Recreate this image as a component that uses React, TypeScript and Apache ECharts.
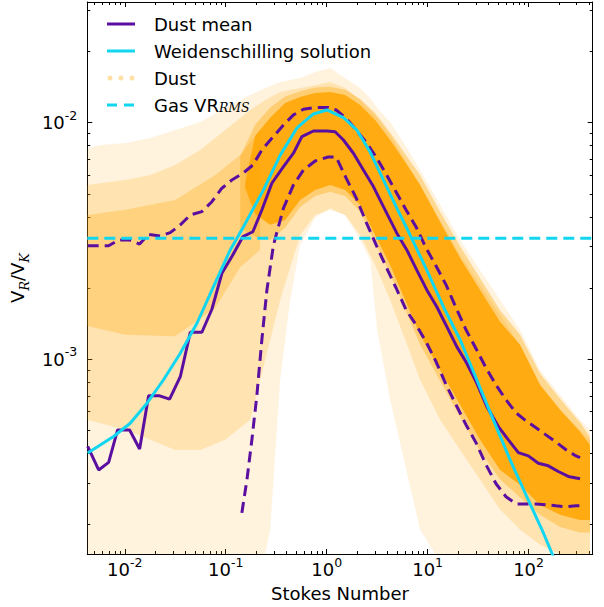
import React, { useEffect, useRef } from "react";
import * as echarts from "echarts";

// ---- axis ranges & ticks ----
const stMin = 0.00425;
const stMax = 432;
const vMin = 1.5e-4;
const vMax = 0.0324;
const majorStTicks = [0.01, 0.1, 1, 10, 100];
const minorStTicks = [0.005, 0.006, 0.007, 0.008, 0.009, 0.02, 0.03, 0.04, 0.05, 0.06, 0.07, 0.08, 0.09, 0.2, 0.3, 0.4, 0.5, 0.6, 0.7, 0.8, 0.9, 2, 3, 4, 5, 6, 7, 8, 9, 20, 30, 40, 50, 60, 70, 80, 90, 200, 300, 400];
const majorVTicks = [0.001, 0.01];
const minorVTicks = [0.0002, 0.0003, 0.0004, 0.0005, 0.0006, 0.0007, 0.0008, 0.0009, 0.002, 0.003, 0.004, 0.005, 0.006, 0.007, 0.008, 0.009, 0.02, 0.03];

// ---- Dust mean (solid purple) ----
const dustMeanSt = [0.00429, 0.00551, 0.00692, 0.00849, 0.01117, 0.01403, 0.01722, 0.02213, 0.0278, 0.03548, 0.04457, 0.05808, 0.07295, 0.09162, 0.1151, 0.1479, 0.1858, 0.228, 0.2864, 0.3733, 0.4688, 0.5675, 0.7396, 1.005, 1.213, 1.466, 1.841, 2.312, 2.904, 3.648, 4.955, 6.223, 7.816, 9.817, 12.33, 15.49, 19.45, 24.43, 30.69, 38.55, 50.23, 63.1, 79.25, 99.54, 125.0, 157.0, 197.2, 247.7, 323.6];
const dustMeanV = [4.28e-4, 3.4e-4, 3.66e-4, 5.02e-4, 5.02e-4, 4.17e-4, 7.0e-4, 7.0e-4, 6.78e-4, 8.43e-4, 1.3e-3, 1.3e-3, 1.626e-3, 2.307e-3, 2.716e-3, 3.296e-3, 3.459e-3, 4.276e-3, 5.546e-3, 6.516e-3, 7.43e-3, 8.73e-3, 9.226e-3, 9.226e-3, 9.162e-3, 8.453e-3, 7.43e-3, 6.31e-3, 5.37e-3, 4.416e-3, 3.412e-3, 2.897e-3, 2.382e-3, 1.963e-3, 1.667e-3, 1.374e-3, 1.13e-3, 9.616e-4, 7.925e-4, 6.31e-4, 5.188e-4, 4.56e-4, 4.027e-4, 3.899e-4, 3.631e-4, 3.54e-4, 3.35e-4, 3.192e-4, 3.119e-4];

// ---- Dust mean + sigma (dashed purple) ----
const upperSt = [0.00429, 0.00551, 0.00692, 0.00869, 0.01117, 0.01403, 0.01722, 0.02244, 0.02818, 0.03548, 0.04457, 0.05808, 0.07295, 0.09162, 0.1151, 0.1479, 0.1858, 0.228, 0.2864, 0.3733, 0.4688, 0.5888, 0.7691, 1.042, 1.242, 1.56, 1.959, 2.46, 3.09, 3.882, 4.875, 6.124, 7.691, 9.661, 12.13, 15.24, 19.14, 24.04, 30.2, 37.93, 47.64, 59.84, 75.16, 94.41, 118.6, 148.6, 186.6, 235.0, 295.1, 323.6];
const upperV = [3.02e-3, 3.02e-3, 3.02e-3, 3.192e-3, 3.192e-3, 3.069e-3, 3.373e-3, 3.319e-3, 3.428e-3, 3.698e-3, 4.074e-3, 4.207e-3, 4.634e-3, 5.284e-3, 5.728e-3, 6.109e-3, 6.622e-3, 7.674e-3, 8.59e-3, 9.772e-3, 1.079e-2, 1.14e-2, 1.161e-2, 1.161e-2, 1.132e-2, 1.045e-2, 9.311e-3, 8.279e-3, 7.161e-3, 6.067e-3, 5.093e-3, 4.276e-3, 3.622e-3, 2.951e-3, 2.477e-3, 2.061e-3, 1.648e-3, 1.33e-3, 1.107e-3, 9.183e-4, 7.78e-4, 6.73e-4, 5.929e-4, 5.483e-4, 5.129e-4, 4.786e-4, 4.467e-4, 4.14e-4, 3.899e-4, 3.83e-4];

// ---- Dust mean - sigma (dashed purple) ----
const lowerSt = [0.1445, 0.1622, 0.1816, 0.2037, 0.228, 0.2559, 0.2972, 0.3733, 0.4688, 0.5888, 0.7691, 1.035, 1.242, 1.56, 1.959, 2.46, 3.09, 3.882, 4.875, 6.124, 7.691, 9.661, 12.13, 15.24, 19.14, 24.04, 30.2, 37.93, 47.64, 59.84, 75.16, 94.41, 118.6, 148.6, 186.6, 235.0, 295.1, 323.6];
const lowerV = [2.239e-4, 3.09e-4, 4.56e-4, 7.063e-4, 1.208e-3, 1.963e-3, 3.041e-3, 4.355e-3, 5.458e-3, 6.31e-3, 6.887e-3, 7.161e-3, 7.161e-3, 5.834e-3, 4.808e-3, 3.802e-3, 3.041e-3, 2.455e-3, 2.0e-3, 1.614e-3, 1.396e-3, 1.183e-3, 9.75e-4, 7.798e-4, 6.412e-4, 5.272e-4, 4.426e-4, 3.573e-4, 2.972e-4, 2.618e-4, 2.443e-4, 2.443e-4, 2.443e-4, 2.421e-4, 2.399e-4, 2.377e-4, 2.399e-4, 2.4e-4];

// ---- Weidenschilling solution (cyan) ----
const weidSt = [0.00429, 0.00774, 0.01132, 0.0166, 0.02421, 0.03548, 0.05188, 0.07568, 0.1109, 0.15, 0.2366, 0.3467, 0.507, 0.7396, 1.005, 1.466, 1.991, 2.698, 3.648, 4.955, 6.714, 9.817, 14.32, 20.99, 30.69, 44.77, 65.61, 95.94, 140.3, 187.1];
const weidV = [4.009e-4, 4.71e-4, 5.358e-4, 6.516e-4, 8.185e-4, 1.059e-3, 1.419e-3, 2.028e-3, 2.897e-3, 3.631e-3, 5.2e-3, 7.295e-3, 9.506e-3, 1.089e-2, 1.132e-2, 1.052e-2, 9.311e-3, 7.516e-3, 5.728e-3, 4.355e-3, 3.35e-3, 2.382e-3, 1.667e-3, 1.208e-3, 8.185e-4, 5.534e-4, 3.75e-4, 2.624e-4, 1.841e-4, 1.374e-4];

// ---- Gas VR_RMS (dashed cyan) ----
const gasVR = 3.25e-3;

// ---- Dust particle cloud, envelopes ----
const sparseSt = [0.004255, 0.005719, 0.01011, 0.01787, 0.03162, 0.0559, 0.09886, 0.1749, 0.246, 0.2758, 0.3465, 0.4351, 0.5467, 0.7691, 1.083, 1.524, 2.147, 2.696, 3.162, 4.254, 5.987, 8.427, 11.87, 20.98, 33.11, 52.24, 82.39, 130.0, 205.1, 323.6, 406.2];
const sparseTop = [0.00782, 0.00805, 0.00821, 0.00862, 0.00931, 0.01007, 0.01153, 0.0131, 0.01403, 0.01429, 0.01486, 0.01515, 0.01545, 0.01638, 0.01703, 0.01545, 0.01403, 0.01272, 0.01153, 0.01007, 0.00805, 0.00631, 0.0049, 0.00319, 0.00238, 0.00178, 0.00133, 0.000901, 0.000706, 0.000554, 0.000503];
const sparseBottom = [1.5e-4, 1.5e-4, 1.5e-4, 1.5e-4, 1.5e-4, 1.5e-4, 1.5e-4, 1.5e-4, 1.5e-4, 0.00019, 0.000818, 0.00178, 0.00304, 0.00396, 0.00436, 0.00407, 0.00319, 0.00263, 0.00133, 0.000673, 0.000357, 0.00019, 1.5e-4, 1.5e-4, 1.5e-4, 1.5e-4, 1.5e-4, 1.5e-4, 1.5e-4, 1.5e-4, 1.5e-4];

const midSt = [0.004255, 0.01011, 0.01787, 0.03162, 0.0559, 0.09886, 0.1749, 0.246, 0.3465, 0.5467, 0.7691, 1.083, 1.524, 2.147, 3.02, 4.254, 5.987, 8.427, 13.3, 20.98, 33.11, 52.24, 82.39, 130.0, 205.1, 323.6, 406.2];
const midTop = [0.00545, 0.00573, 0.00601, 0.00662, 0.00767, 0.00931, 0.01132, 0.01247, 0.01349, 0.01403, 0.01442, 0.01486, 0.01403, 0.01247, 0.01078, 0.00887, 0.00696, 0.00545, 0.00388, 0.00276, 0.00206, 0.00154, 0.00115, 0.000779, 0.000611, 0.000503, 0.000456];
const midBottom = [0.000554, 0.000503, 0.000456, 0.000413, 0.000413, 0.000456, 0.000554, 0.000993, 0.00178, 0.00335, 0.00407, 0.00428, 0.00407, 0.00335, 0.0025, 0.00178, 0.00121, 0.000818, 0.000554, 0.000413, 0.000309, 0.000231, 0.00019, 0.000164, 1.5e-4, 1.5e-4, 1.5e-4];

const leftDenseSt = [0.004255, 0.01011, 0.03162, 0.0787, 0.1392, 0.2196];
const leftDenseTop = [0.00407, 0.00428, 0.00471, 0.00601, 0.0073, 0.00931];
const leftDenseBottom = [0.00138, 0.00127, 0.00125, 0.00165, 0.00245, 0.0029];

const innerSt = [0.1392, 0.1959, 0.2758, 0.3882, 0.5467, 0.7691, 1.083, 1.524, 2.147, 3.02, 4.254, 5.987, 8.427, 13.3, 20.98, 33.11, 52.24, 82.39, 130.0, 205.1, 323.6, 406.2];
const innerTop = [0.0072, 0.0098, 0.0116, 0.0129, 0.0136, 0.0141, 0.0142, 0.0138, 0.0126, 0.0110, 0.0091, 0.0074, 0.0060, 0.0042, 0.0030, 0.0022, 0.00161, 0.00127, 0.00087, 0.00068, 0.00054, 0.00047];
const innerBottom = [0.0036, 0.0033, 0.0032, 0.0036, 0.0044, 0.0049, 0.0051, 0.0049, 0.0042, 0.0031, 0.0023, 0.00163, 0.00115, 0.00081, 0.00057, 0.00041, 0.00031, 0.00026, 0.00022, 0.000195, 0.000185, 0.000185];

const coreSt = [0.156, 0.1959, 0.2758, 0.3882, 0.5467, 0.7691, 1.083, 1.524, 2.147, 3.02, 4.254, 5.987, 8.427, 13.3, 20.98, 33.11, 52.24, 82.39, 130.0, 205.1, 323.6, 406.2];
const coreTop = [0.0056, 0.0088, 0.0105, 0.01211, 0.01284, 0.01335, 0.01349, 0.0131, 0.01188, 0.01027, 0.00845, 0.00682, 0.00545, 0.0038, 0.00268, 0.00196, 0.00144, 0.00115, 0.000779, 0.000611, 0.000493, 0.000434];
const coreBottom = [0.0053, 0.0041, 0.0037, 0.00388, 0.00471, 0.00519, 0.00545, 0.00519, 0.00449, 0.00335, 0.0025, 0.00178, 0.00127, 0.000901, 0.000641, 0.000456, 0.00034, 0.000294, 0.000242, 0.00022, 0.000209, 0.000209];

const FONT = "DejaVu Sans";
const PURPLE = "#5b0fa0";
const CYAN = "#12d6f0";
const DOT = "rgba(255,165,0,0.35)";
const DASH = [11, 6];

const zip = (a: number[], b: number[]) => a.map((x, i) => [x, b[i]]);

const supLabel = (v: number) => `{b|10}{s|${Math.round(Math.log10(v))}}`;
const labelRich = {
  b: { fontSize: 18, lineHeight: 28, fontFamily: FONT, color: "#000" },
  s: { fontSize: 12.5, lineHeight: 13, verticalAlign: "top", fontFamily: FONT, color: "#000" },
};

// legend handles (28 x 8 box)
const BOX = "M0,0h0.01M27.99,8h0.01";
const solidIcon = `path://${BOX}M0,2.5h28v3h-28z`;
const dashedIcon = `path://${BOX}M0,2.5h10v3h-10zM17,2.5h10v3h-10z`;
const dotsIcon = `path://${BOX}M0.5,4a2.5,2.5 0 1,0 5,0a2.5,2.5 0 1,0 -5,0M11.5,4a2.5,2.5 0 1,0 5,0a2.5,2.5 0 1,0 -5,0M22.5,4a2.5,2.5 0 1,0 5,0a2.5,2.5 0 1,0 -5,0`;

function tickAxis(kind: "x" | "y", position: string, values: number[], length: number, line: boolean) {
  return {
    type: "log",
    logBase: 10,
    min: kind === "x" ? stMin : vMin,
    max: kind === "x" ? stMax : vMax,
    position,
    splitLine: { show: false },
    axisLine: { show: line, onZero: false, lineStyle: { color: "#000", width: 1 } },
    axisTick: { show: true, inside: true, length, customValues: values, lineStyle: { color: "#000", width: 1 } },
    axisLabel: { show: false },
  };
}

export default function App() {
  const ref = useRef<HTMLDivElement>(null);
  useEffect(() => {
    if (!ref.current) return;
    const chart = echarts.init(ref.current, null, { renderer: "svg" });

    const cloudLayers = [
      { st: sparseSt, top: sparseTop, bottom: sparseBottom, fill: "rgba(255,165,0,0.13)" },
      { st: midSt, top: midTop, bottom: midBottom, fill: "rgba(255,165,0,0.2)" },
      { st: leftDenseSt, top: leftDenseTop, bottom: leftDenseBottom, fill: "rgba(255,165,0,0.28)" },
      { st: innerSt, top: innerTop, bottom: innerBottom, fill: "rgba(255,165,0,0.35)" },
      { st: coreSt, top: coreTop, bottom: coreBottom, fill: "rgba(255,165,0,0.85)" },
    ];

    const xMain: any = {
      ...tickAxis("x", "bottom", majorStTicks, 5, true),
      axisLabel: {
        show: true,
        customValues: majorStTicks,
        formatter: supLabel,
        margin: 1.5,
        fontFamily: FONT,
        fontSize: 18,
        color: "#000",
        rich: labelRich,
      },
      name: "Stokes Number",
      nameLocation: "middle",
      nameGap: 30,
      nameTextStyle: { fontFamily: FONT, fontSize: 18, color: "#000" },
    };
    const yMain: any = {
      ...tickAxis("y", "left", majorVTicks, 5, true),
      axisLabel: {
        show: true,
        customValues: majorVTicks,
        formatter: supLabel,
        margin: 10,
        fontFamily: FONT,
        fontSize: 18,
        color: "#000",
        rich: labelRich,
      },
      name: "{n|V}{sub|R}{n|/V}{sub|K}",
      nameLocation: "middle",
      nameGap: 48,
      nameRotate: 90,
      nameTextStyle: {
        fontFamily: FONT,
        fontSize: 18,
        color: "#000",
        rich: {
          n: { fontFamily: FONT, fontSize: 18, lineHeight: 28, color: "#000" },
          sub: { fontFamily: "DejaVu Serif", fontStyle: "italic", fontSize: 13, lineHeight: 16, verticalAlign: "bottom", color: "#000" },
        },
      },
    };

    const option: any = {
      animation: false,
      backgroundColor: "#fff",
      grid: { left: 87, right: 11.3, top: 2, bottom: 53, containLabel: false },
      xAxis: [
        xMain,
        tickAxis("x", "bottom", minorStTicks, 3, false),
        tickAxis("x", "top", majorStTicks, 5, true),
        tickAxis("x", "top", minorStTicks, 3, false),
      ],
      yAxis: [
        yMain,
        tickAxis("y", "left", minorVTicks, 3, false),
        tickAxis("y", "right", majorVTicks, 5, true),
        tickAxis("y", "right", minorVTicks, 3, false),
      ],
      legend: {
        orient: "vertical",
        left: 107,
        top: 15,
        padding: 0,
        itemGap: 9,
        itemWidth: 28,
        itemHeight: 8,
        selectedMode: false,
        data: [
          { name: "Dust mean", icon: solidIcon, itemStyle: { color: PURPLE, borderWidth: 0 } },
          { name: "Weidenschilling solution", icon: solidIcon, itemStyle: { color: CYAN, borderWidth: 0 } },
          { name: "Dust", icon: dotsIcon, itemStyle: { color: DOT, borderWidth: 0 } },
          { name: "Gas VR", icon: dashedIcon, itemStyle: { color: CYAN, borderWidth: 0 } },
        ],
        formatter: (n: string) => (n === "Gas VR" ? "{n|Gas VR}{sub|RMS}" : `{n|${n}}`),
        textStyle: {
          fontFamily: FONT,
          fontSize: 18,
          color: "#000",
          padding: [0, 0, 0, 14],
          rich: {
            n: { fontFamily: FONT, fontSize: 18, lineHeight: 18, color: "#000" },
            sub: { fontFamily: "DejaVu Serif", fontStyle: "italic", fontSize: 12.5, lineHeight: 10, verticalAlign: "bottom", color: "#000" },
          },
        },
      },
      series: [
        {
          name: "Dust",
          type: "custom",
          coordinateSystem: "cartesian2d",
          xAxisIndex: 0,
          yAxisIndex: 0,
          data: [[1, 0.001]],
          clip: true,
          silent: true,
          z: 1,
          itemStyle: { color: DOT },
          renderItem: (params: any, api: any) => {
            if (params.dataIndex !== 0) return null;
            const children = cloudLayers.map((layer) => {
              const top = layer.st.map((s, i) => api.coord([s, layer.top[i]]));
              const bottom = layer.st.map((s, i) => api.coord([s, layer.bottom[i]])).reverse();
              return {
                type: "polygon",
                silent: true,
                shape: { points: top.concat(bottom) },
                style: { fill: layer.fill, stroke: null },
              };
            });
            return { type: "group", children };
          },
        },
        {
          name: "Dust mean",
          type: "line",
          data: zip(dustMeanSt, dustMeanV),
          symbol: "none",
          clip: true,
          z: 3,
          color: PURPLE,
          lineStyle: { color: PURPLE, width: 3 },
        },
        {
          name: "Dust mean + sigma",
          type: "line",
          data: zip(upperSt, upperV),
          symbol: "none",
          clip: true,
          z: 3,
          color: PURPLE,
          lineStyle: { color: PURPLE, width: 3, type: DASH },
        },
        {
          name: "Dust mean - sigma",
          type: "line",
          data: zip(lowerSt, lowerV),
          symbol: "none",
          clip: true,
          z: 3,
          color: PURPLE,
          lineStyle: { color: PURPLE, width: 3, type: DASH },
        },
        {
          name: "Weidenschilling solution",
          type: "line",
          data: zip(weidSt, weidV),
          symbol: "none",
          clip: true,
          z: 4,
          color: CYAN,
          lineStyle: { color: CYAN, width: 3 },
        },
        {
          name: "Gas VR",
          type: "line",
          data: [
            [stMin, gasVR],
            [stMax, gasVR],
          ],
          symbol: "none",
          clip: true,
          z: 5,
          color: CYAN,
          lineStyle: { color: CYAN, width: 3, type: DASH },
        },
      ],
    };
    chart.setOption(option);
    return () => chart.dispose();
  }, []);
  return (
    <div
      ref={ref}
      style={{ position: "fixed", left: 0, top: 0, width: 604, height: 607, background: "#fff" }}
    />
  );
}
